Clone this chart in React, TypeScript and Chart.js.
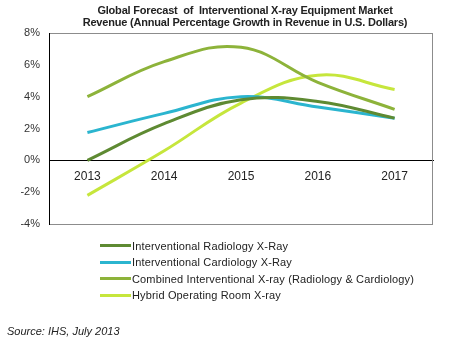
import React, { useEffect, useRef } from "react";
import { Chart, registerables } from "chart.js";
Chart.register(...registerables);

const years = ["2013", "2014", "2015", "2016", "2017"];
const radiology = [0.0, 2.3, 3.8, 3.7, 2.65];
const cardiology = [1.75, 2.95, 4.0, 3.35, 2.65];
const combined = [4.0, 6.2, 7.1, 4.9, 3.2];
const hybrid = [-2.2, 0.6, 3.6, 5.35, 4.45];
const seriesNames = [
  "Interventional Radiology X-Ray",
  "Interventional Cardiology X-Ray",
  "Combined Interventional X-ray (Radiology & Cardiology)",
  "Hybrid Operating Room X-ray",
];
const seriesColors = ["#5e8a32", "#2bb5cf", "#8db33a", "#c6e63c"];
const yTicks = [-4, -2, 0, 2, 4, 6, 8];

const FONT = "'Liberation Sans', Arial, sans-serif";

const framePlugin = {
  id: "frame",
  beforeDatasetsDraw(chart: any) {
    const { ctx, chartArea } = chart;
    ctx.save();
    ctx.strokeStyle = "#8c8c8c";
    ctx.lineWidth = 1;
    ctx.strokeRect(chartArea.left + 0.5, chartArea.top + 0.5, chartArea.right - chartArea.left - 1, chartArea.bottom - chartArea.top);
    ctx.strokeStyle = "#000";
    ctx.beginPath();
    ctx.moveTo(chartArea.left + 0.5, chartArea.top);
    ctx.lineTo(chartArea.left + 0.5, chartArea.bottom + 1);
    ctx.stroke();
    ctx.restore();
  },
};

export default function App() {
  const ref = useRef<HTMLCanvasElement>(null);
  useEffect(() => {
    document.body.style.margin = "0";
    const data = [radiology, cardiology, combined, hybrid];
    const chart = new Chart(ref.current!, {
      type: "line",
      data: {
        labels: years,
        datasets: data.map((d, i) => ({
          label: seriesNames[i],
          data: d,
          borderColor: seriesColors[i],
          backgroundColor: seriesColors[i],
          borderWidth: 3,
          pointRadius: 0,
          tension: 0.4,
          fill: false,
        })),
      },
      options: {
        animation: false,
        responsive: false,
        layout: { padding: { left: 0, top: 33, right: 19, bottom: 123 } },
        plugins: { legend: { display: false }, title: { display: false }, tooltip: { enabled: false } },
        scales: {
          x: {
            position: { y: 0 } as any,
            offset: true,
            grid: { display: false, drawTicks: false },
            border: { display: true, color: "#000", width: 1 },
            ticks: { color: "#222", font: { family: FONT, size: 12 }, padding: 9 },
          },
          y: {
            min: -4,
            max: 8,
            afterBuildTicks: (s: any) => {
              s.ticks = yTicks.map((v) => ({ value: v }));
            },
            afterFit: (s: any) => {
              s.width = 49;
            },
            grid: { display: false, drawTicks: false },
            border: { display: false },
            ticks: {
              color: "#333",
              font: { family: FONT, size: 11 },
              padding: 9,
              callback: (v: any) => v + "%",
            },
          },
        },
      },
      plugins: [framePlugin],
    });
    return () => chart.destroy();
  }, []);

  const text: React.CSSProperties = { position: "absolute", fontFamily: FONT, color: "#222", whiteSpace: "nowrap" };
  return (
    <div style={{ position: "relative", width: 452, height: 347, background: "#fff", overflow: "hidden" }}>
      <canvas ref={ref} width={452} height={347} style={{ position: "absolute", left: 0, top: 0 }} />
      <div style={{ ...text, left: 0, width: 490, top: 4, textAlign: "center", fontWeight: "bold", fontSize: 11, lineHeight: "12px", letterSpacing: -0.2 }}>
        Global Forecast&nbsp; of&nbsp; Interventional X-ray Equipment Market
        <br />
        Revenue (Annual Percentage Growth in Revenue in U.S. Dollars)
      </div>
      {seriesNames.map((n, i) => (
        <div key={n} style={{ ...text, left: 100, top: 238 + i * 16.5, height: 15, display: "flex", alignItems: "center", fontSize: 11, letterSpacing: 0.15 }}>
          <span style={{ display: "inline-block", width: 31, height: 3, background: seriesColors[i], marginRight: 1 }} />
          <span>{n}</span>
        </div>
      ))}
      <div style={{ ...text, left: 7, top: 325, fontSize: 11, fontStyle: "italic" }}>Source: IHS, July 2013</div>
    </div>
  );
}
